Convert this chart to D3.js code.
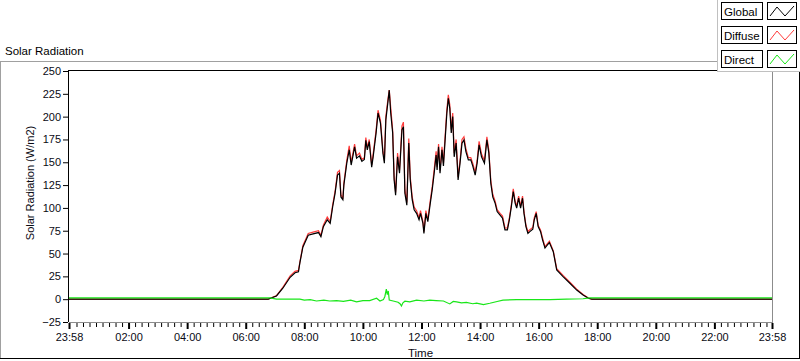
<!DOCTYPE html>
<html>
<head>
<meta charset="utf-8">
<script src="https://cdn.jsdelivr.net/npm/d3@7"></script>
<style>
body { margin: 0; background: #fff; }
svg { display: block; font-family: "Liberation Sans", Arial, sans-serif; }
.axis text { font-size: 11px; fill: #0a0a14; }
</style>
</head>
<body>
<svg id="vis" width="800" height="361"></svg>
<script>
// time stamps for global / diffuse (first one is 23:58 of the day before)
var radTimes = ["23:58","06:46","07:03","07:16","07:31","07:41","07:48","07:51","07:57","08:08",
	"08:18","08:29","08:34","08:39","08:47","08:53","08:58","09:03","09:08","09:12",
	"09:15","09:19","09:21","09:27","09:32","09:36","09:40","09:43","09:47","09:53",
	"09:58","10:03","10:06","10:09","10:13","10:18","10:21","10:27","10:31","10:36",
	"10:41","10:44","10:47","10:51","10:54","10:57","11:01","11:04","11:07","11:11",
	"11:15","11:20","11:23","11:26","11:30","11:34","11:37","11:41","11:45","11:50",
	"11:55","11:58","12:03","12:05","12:09","12:13","12:18","12:22","12:26","12:30",
	"12:32","12:35","12:38","12:42","12:45","12:48","12:52","12:55","12:58","13:01",
	"13:04","13:07","13:11","13:15","13:19","13:23","13:27","13:31","13:36","13:41",
	"13:45","13:50","13:54","13:58","14:03","14:09","14:14","14:18","14:22","14:26",
	"14:31","14:35","14:41","14:46","14:51","14:56","15:00","15:04","15:08","15:12",
	"15:15","15:19","15:23","15:27","15:30","15:34","15:38","15:42","15:48","15:51",
	"15:55","15:59","16:04","16:08","16:13","16:18","16:22","16:30","16:37","16:50",
	"17:04","17:18","17:31","17:42","17:49","23:58"];

var globalVals = [0,0,3.5,12,24,29,30,40,57,70,
	71.5,73,68.5,79.5,87,83,101,116,136,138,
	112,109,125,149,163.6,147,158,167,154.5,157,
	151,153,174,163.6,172.7,144.6,156,182,204,193,
	160,149,196.5,214.8,229,204,182,130.7,114,156,
	138,185.5,189,116,103,171,130.7,109,98,94,
	87,94,83,72,94,85,105,120,138,158,
	141.7,167,138,163.6,146,171,204,220,209,182,
	200,156,171,130.7,149,171,174.5,161.7,152.6,152.6,
	146,136,149,169,156,149,174.5,160,127,112,
	105,96,92,88.7,76,76,87,101,118,105,
	99.7,110.6,99.7,110.6,94,79.5,72,74,76.6,87,
	94,79.5,74,65,56,59.4,62,52,32,24.7,
	17.4,10,4.6,1,0,0];

var diffuseVals = [0,0,4,13,25.5,30.5,31.5,41,58.5,72,
	73.5,75,70,81,90,85,103,118,139,141,
	114,111,127,152,168,150,161,170,157,160,
	153,155,177,166,175,147,159,185,207,196,
	163,152,200,218,229,210,185,134,117,160,
	141,190,194,120,106,176,134,112,101,97,
	89,97,85,74,97,87,108,123,142,162,
	145,170,141,167,149,175,208,224,213,186,
	204,160,175,134,152,175,178,165,155,155,
	149,139,152,173,159,152,178,163,130,115,
	107,98,94,91,78,78,89,103,121,107,
	102,113,102,113,96,81,74,76,78.5,89,
	96,81,75.5,67,57.5,61,63.5,53,33.5,26,
	18.5,11,5.2,1.2,0,0];

// direct has its own time stamps
var directTimes = ["23:58","06:50","07:03","07:51","08:00","08:12","08:25","08:40","08:52","09:06",
	"09:20","09:35","09:47","10:00","10:14","10:28","10:35","10:42","10:45","10:48",
	"10:50","10:52","10:54","11:02","11:12","11:16","11:19","11:22","11:26","11:36",
	"11:50","12:05","12:17","12:30","12:45","12:58","13:05","13:12","13:22","13:32",
	"13:45","13:53","14:07","14:20","14:35","14:47","15:15","15:49","16:23","16:57",
	"17:31","17:45","23:58"];

var directVals = [1.5,1.5,0,0,-1,-0.5,-2,-1,-2,-1.5,
	-2.5,-1,-3,-1.5,-1.5,1,-2,-0.5,3,11,
	5,9,-1,-2,-3.3,-5,-7.4,-4,-2.2,-3,
	-1,-2,-1,-1.5,-2,-5.2,-2.5,-3,-4,-3.5,
	-5,-4.3,-6,-4.5,-2.5,-1,-0.5,-0.5,-0.5,0,
	0.5,1.5,1.5];

var yTicks = [-25,0,25,50,75,100,125,150,175,200,225,250];
var xTickLabels = ["23:58","02:00","04:00","06:00","08:00","10:00","12:00","14:00","16:00","18:00","20:00","22:00","23:58"];
var seriesNames = ["Global","Diffuse","Direct"];
var seriesColors = ["#000000","#ff3b3b","#19e619"];

var parseT = d3.timeParse("%Y-%m-%d %H:%M");
function toDate(s, i)
{
	// first stamp belongs to the previous day, all others to the chart day
	return parseT((i === 0 ? "2016-01-01 " : "2016-01-02 ") + s);
}

var vis = d3.select("#vis");
var plot = {left: 69, right: 772, top: 71, bottom: 322};

var tStart = toDate(xTickLabels[0], 0);
var tEnd = toDate(xTickLabels[xTickLabels.length - 1], 1);

var xScale = d3.scaleTime().domain([tStart, tEnd]).range([plot.left, plot.right]);
var yScale = d3.scaleLinear().domain([-25, 250]).range([plot.bottom, plot.top]);

// outer panel
vis.append("line").attr("x1", 0).attr("x2", 717).attr("y1", 61.5).attr("y2", 61.5).attr("stroke", "#a0a0a0");
vis.append("line").attr("x1", 0.5).attr("x2", 0.5).attr("y1", 61).attr("y2", 358).attr("stroke", "#a0a0a0");
vis.append("line").attr("x1", 0).attr("x2", 800).attr("y1", 358.5).attr("y2", 358.5).attr("stroke", "#000");
vis.append("line").attr("x1", 799.5).attr("x2", 799.5).attr("y1", 72).attr("y2", 359).attr("stroke", "#000");

vis.append("text").attr("x", 5).attr("y", 55).attr("font-size", "11.5px").attr("fill", "#000").text("Solar Radiation");

// plot frame: black top/left, grey bottom/right
vis.append("line").attr("x1", plot.left - 0.5).attr("x2", plot.right).attr("y1", plot.top - 0.5).attr("y2", plot.top - 0.5).attr("stroke", "#000");
vis.append("line").attr("x1", plot.left - 0.5).attr("x2", plot.left - 0.5).attr("y1", plot.top - 1).attr("y2", plot.bottom).attr("stroke", "#000");
vis.append("line").attr("x1", plot.left).attr("x2", plot.right + 1).attr("y1", plot.bottom + 0.5).attr("y2", plot.bottom + 0.5).attr("stroke", "#8c8c8c");
vis.append("line").attr("x1", plot.right + 0.5).attr("x2", plot.right + 0.5).attr("y1", plot.top).attr("y2", plot.bottom + 1).attr("stroke", "#8c8c8c");

// y axis
var yAxis = d3.axisLeft(yScale).tickValues(yTicks).tickSize(5).tickPadding(2);
var gy = vis.append("g").attr("class", "axis").attr("transform", "translate(" + (plot.left - 1) + ",0)").call(yAxis);
gy.select(".domain").remove();
gy.selectAll("text").attr("font-family", null).attr("font-size", null);

// x axis, major + minor ticks (minor every 800 s)
var xMajor = xTickLabels.map(function(s, i) { return toDate(s, i === 0 ? 0 : 1); });
var xMinor = d3.range(0, 108).map(function(k) { return new Date(xMajor[1].getTime() - 2 * 3600000 + k * 800000); })
	.filter(function(d) { return d > tStart && d < tEnd && !(d.getMinutes() === 0 && d.getHours() % 2 === 0); });

var gxm = vis.append("g").attr("class", "axis").attr("transform", "translate(0," + (plot.bottom + 1) + ")")
	.call(d3.axisBottom(xScale).tickValues(xMinor).tickSize(4).tickFormat(""));
gxm.select(".domain").remove();

var xAxis = d3.axisBottom(xScale).tickValues(xMajor).tickSize(6).tickPadding(4).tickFormat(d3.timeFormat("%H:%M"));
var gx = vis.append("g").attr("class", "axis").attr("transform", "translate(0," + (plot.bottom + 1) + ")").call(xAxis);
gx.select(".domain").remove();
gx.selectAll("line").attr("stroke-width", 2);
gx.selectAll("text").attr("font-family", null).attr("font-size", null);

// axis titles
vis.append("text").attr("transform", "translate(33.5,183) rotate(-90)").attr("text-anchor", "middle")
	.attr("font-size", "11px").attr("fill", "#0a0a14").text("Solar Radiation (W/m2)");
vis.append("text").attr("x", (plot.left + plot.right) / 2).attr("y", 357).attr("text-anchor", "middle")
	.attr("font-size", "11.5px").attr("fill", "#0a0a14").text("Time");

// series
var radData = radTimes.map(function(s, i) { return {t: toDate(s, i), g: globalVals[i], d: diffuseVals[i]}; });
var dirData = directTimes.map(function(s, i) { return {t: toDate(s, i), v: directVals[i]}; });

vis.append("clipPath").attr("id", "clip").append("rect")
	.attr("x", plot.left).attr("y", plot.top).attr("width", plot.right - plot.left).attr("height", plot.bottom - plot.top);

var lines = vis.append("g").attr("clip-path", "url(#clip)");

var lineD = d3.line().x(function(d) { return xScale(d.t); }).y(function(d) { return yScale(d.d); });
var lineG = d3.line().x(function(d) { return xScale(d.t); }).y(function(d) { return yScale(d.g); });
var lineR = d3.line().x(function(d) { return xScale(d.t); }).y(function(d) { return yScale(d.v); });

lines.append("path").attr("d", lineD(radData)).attr("stroke", seriesColors[1]).attr("stroke-width", 1.2).attr("fill", "none");
lines.append("path").attr("d", lineG(radData)).attr("stroke", seriesColors[0]).attr("stroke-width", 1.2).attr("fill", "none");
lines.append("path").attr("d", lineR(dirData)).attr("stroke", seriesColors[2]).attr("stroke-width", 1.2).attr("fill", "none");

// legend panel
var leg = vis.append("g");
leg.append("rect").attr("x", 717.5).attr("y", -1).attr("width", 84).attr("height", 72.5).attr("fill", "#fff").attr("stroke", "#c0c0c0");
seriesNames.forEach(function(name, i) {
	var y0 = 2 + i * 24;
	leg.append("rect").attr("x", 721.5).attr("y", y0 + 0.5).attr("width", 41).attr("height", 17).attr("fill", "#fff").attr("stroke", "#000");
	leg.append("text").attr("x", 724).attr("y", y0 + 13.5).attr("font-size", "11.5px").attr("fill", "#000").text(name);
	leg.append("rect").attr("x", 767.5).attr("y", y0 + 0.5).attr("width", 29).attr("height", 17).attr("fill", "#fff").attr("stroke", "#000");
	leg.append("path").attr("d", "M" + 770 + "," + (y0 + 14) + "L" + 777 + "," + (y0 + 5) + "L" + 785 + "," + (y0 + 14) + "L" + 794 + "," + (y0 + 4))
		.attr("stroke", seriesColors[i]).attr("stroke-width", 1).attr("fill", "none");
});
</script>
</body>
</html>
